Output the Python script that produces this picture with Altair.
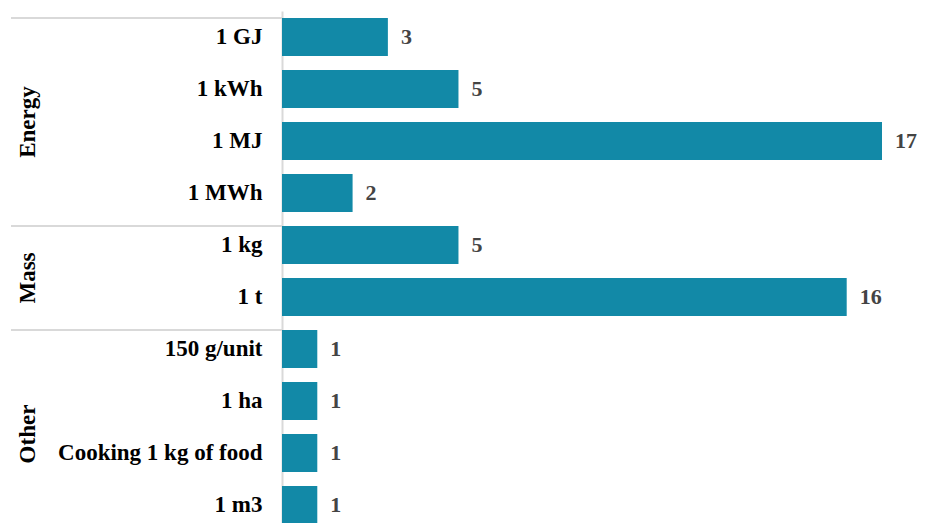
import altair as alt
import pandas as pd

groups = ["Energy", "Energy", "Energy", "Energy", "Mass", "Mass", "Other", "Other", "Other", "Other"]
units = ["1 GJ", "1 kWh", "1 MJ", "1 MWh", "1 kg", "1 t", "150 g/unit", "1 ha", "Cooking 1 kg of food", "1 m3"]
counts = [3, 5, 17, 2, 5, 16, 1, 1, 1, 1]

group_names = ["Energy", "Mass", "Other"]
group_first = ["1 GJ", "1 kg", "150 g/unit"]
group_mid = ["1 MJ", "1 t", "Cooking 1 kg of food"]

df = pd.DataFrame({"group": groups, "unit": units, "count": counts})
gdf = pd.DataFrame({"group": group_names, "first": group_first, "mid": group_mid})

FONT = "Times New Roman, Liberation Serif, DejaVu Serif, serif"
BAR = "#1289A7"
LINE = "#d9d9d9"

yscale = alt.Scale(domain=units, paddingInner=0.27, paddingOuter=0.135)
xscale = alt.Scale(domain=[0, 17], nice=False)

base = alt.Chart(df)

bars = base.mark_bar(color=BAR).encode(
    x=alt.X("count:Q", scale=xscale, axis=None),
    y=alt.Y("unit:N", scale=yscale, sort=units, title=None,
            axis=alt.Axis(ticks=False, labelPadding=20, labelFont=FONT, labelFontSize=23,
                          labelFontWeight="bold", labelColor="#000000", domainColor=LINE,
                          domainWidth=2, labelLimit=400)),
)

vals = base.mark_text(align="left", baseline="middle", dx=13, font=FONT, fontSize=22,
                      fontWeight="bold", color="#444444").encode(
    x=alt.X("count:Q", scale=xscale),
    y=alt.Y("unit:N", scale=yscale, sort=units),
    text="count:Q",
)

gbase = alt.Chart(gdf)

seps = gbase.mark_rule(color=LINE, strokeWidth=2).encode(
    y=alt.Y("first:N", scale=yscale, sort=units, bandPosition=0),
    x=alt.value(-271),
    x2=alt.value(0),
)

glabels = gbase.mark_text(angle=270, align="center", baseline="middle", font=FONT, fontSize=23,
                          fontWeight="bold", color="#000000").encode(
    y=alt.Y("mid:N", scale=yscale, sort=units, bandPosition=0),
    x=alt.value(-254),
    text="group:N",
)

chart = alt.layer(bars, vals, seps, glabels).properties(
    width=600, height=520,
    padding={"left": 282, "top": 11, "right": 51, "bottom": 0},
    autosize=alt.AutoSizeParams(type="none"),
    background="white",
).configure_view(strokeWidth=0, stroke="transparent")

chart.save("out.html", embed_options={"renderer": "svg", "actions": False})
